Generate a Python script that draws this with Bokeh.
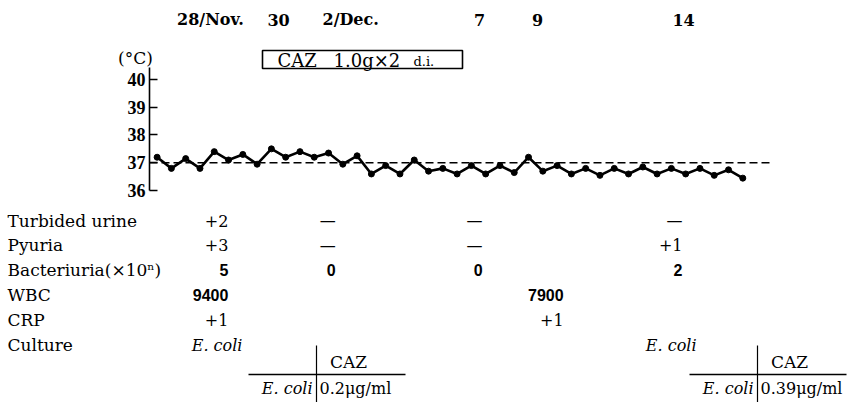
from bokeh.plotting import figure
from bokeh.models import Range1d, FixedTicker, ColumnDataSource
from bokeh.core.properties import value
from bokeh.embed import file_html
from bokeh.resources import INLINE

# ---------------- data ----------------
# body temperature (deg C), two readings a day; day 0 = 28 Nov
temp_first_day = -2.25
temps = [37.2, 36.8, 37.15, 36.8, 37.4, 37.1, 37.3, 36.95, 37.5, 37.2,
         37.4, 37.2, 37.35, 36.95, 37.25, 36.6, 36.9, 36.6, 37.1, 36.7,
         36.8, 36.6, 36.9, 36.6, 36.9, 36.65, 37.2, 36.7, 36.9, 36.6,
         36.8, 36.55, 36.8, 36.6, 36.85, 36.6, 36.8, 36.6, 36.8, 36.55,
         36.75, 36.45]
temp_days = [temp_first_day + 0.5 * i for i in range(len(temps))]
normal_temp = 37.0
temp_ticks = [36, 37, 38, 39, 40]

date_days = [0, 2, 4, 9, 11, 16]
date_labels = ["28/Nov.", "30", "2/Dec.", "7", "9", "14"]

treatment_drug = "CAZ"
treatment_dose = "1.0g×2"
treatment_route = "d.i."

row_labels = ["Turbided urine", "Pyuria", "Bacteriuria(×10ⁿ)", "WBC", "CRP", "Culture"]
turbid_urine = {0: "+2", 4: "—", 9: "—", 16: "—"}
pyuria = {0: "+3", 4: "—", 9: "—", 16: "+1"}
bacteriuria = {0: "5", 4: "0", 9: "0", 16: "2"}
wbc = {0: "9400", 11: "7900"}
crp = {0: "+1", 11: "+1"}
culture = {0: "E. coli", 16: "E. coli"}
table_rows = [turbid_urine, pyuria, bacteriuria, wbc, crp, culture]

mic_drug = "CAZ"
mic_organism = "E. coli"
mic_values = ["0.2μg/ml", "0.39μg/ml"]

# ---------------- layout constants ----------------
W, H = 854, 402
PX_DAY0, PX_PER_DAY = 220.9, 28.57       # horizontal day scale
PX_37, PX_PER_DEG = 162.3, 27.9          # vertical temperature scale
AXIS_PX = 149


def day_at(px):
    return (px - PX_DAY0) / PX_PER_DAY


def deg_at(py):
    return 37 + (PX_37 - py) / PX_PER_DEG


SERIF = value("DejaVu Serif")
SANS = value("Liberation Sans")
PX = dict(x_range_name="px", y_range_name="px")

p = figure(width=W, height=H, output_backend="svg", toolbar_location=None,
           x_range=Range1d(day_at(0), day_at(W)),
           y_range=Range1d(deg_at(H), deg_at(0)),
           x_axis_location=None, y_axis_location="left",
           min_border=0)
# pixel-style ranges for the annotations and the findings table
p.extra_x_ranges = {"px": Range1d(0, W)}
p.extra_y_ranges = {"px": Range1d(H, 0)}
p.outline_line_color = None
p.grid.visible = False
p.background_fill_color = "white"
p.border_fill_color = "white"

# temperature axis pinned next to the curve
ax = p.yaxis[0]
ax.fixed_location = day_at(AXIS_PX)
ax.ticker = FixedTicker(ticks=temp_ticks)
ax.bounds = (36, 40.4)
ax.major_tick_in = 8
ax.major_tick_out = 0
ax.minor_tick_line_color = None
ax.axis_line_width = 1.6
ax.major_tick_line_width = 1.6
ax.axis_line_color = "black"
ax.major_tick_line_color = "black"
ax.major_label_standoff = 4
ax.major_label_text_font = "Liberation Sans Narrow"
ax.major_label_text_font_style = "bold"
ax.major_label_text_font_size = "18px"
ax.major_label_text_color = "black"

# normal temperature reference
p.segment(x0=[day_at(AXIS_PX)], y0=[normal_temp], x1=[day_at(773)], y1=[normal_temp],
          line_color="black", line_width=1.5, line_dash="8 4")

src = ColumnDataSource(dict(day=temp_days, temp=temps))
p.line("day", "temp", source=src, line_color="black", line_width=2.6)
p.scatter("day", "temp", source=src, size=6, color="black")

# date labels along the top
date_shift = [-11, 0, 15, 1, 2, 5]
date_src = ColumnDataSource(dict(x=date_days, y=[deg_at(19)] * len(date_days),
                                 t=date_labels, dx=date_shift))
p.text("x", "y", text="t", x_offset="dx", source=date_src, text_align="center",
       text_baseline="middle", text_font=SERIF, text_font_style="bold",
       text_font_size="16px", text_color="black")

# treatment box
p.quad(left=[262], right=[462], top=[50], bottom=[68],
       fill_color=None, line_color="black", line_width=1.6, **PX)
p.text(x=[277, 333], y=[59.5, 59.5], text=[treatment_drug, treatment_dose],
       text_align="left", text_baseline="middle",
       text_font=SERIF, text_font_size="18px", text_color="black", **PX)
p.text(x=[413], y=[60.5], text=[treatment_route],
       text_align="left", text_baseline="middle",
       text_font=SERIF, text_font_size="13px", text_color="black", **PX)

# unit label above the axis
p.text(x=[135], y=[57], text=["(°C)"], text_align="center", text_baseline="middle",
       text_font=SERIF, text_font_size="17px", text_color="black", **PX)

# ---------------- findings table ----------------
row_y = [220 + 24.9 * i for i in range(len(row_labels))]
p.text(x=[7] * len(row_labels), y=row_y, text=row_labels, text_align="left",
       text_baseline="middle", text_font=SERIF, text_font_size="17px",
       text_color="black", **PX)

col_shift = {0: 7, 4: 0, 9: 4, 11: 28, 16: 4}
groups = {"serif": dict(x=[], y=[], t=[], dx=[]),
          "count": dict(x=[], y=[], t=[], dx=[]),
          "italic": dict(x=[], y=[], t=[], dx=[])}
for r, row in enumerate(table_rows):
    for d, t in row.items():
        if t.startswith("+") or t == "—":
            g = "serif"
        elif t.isdigit():
            g = "count"
        else:
            g = "italic"
        extra = 14 if g == "italic" else 0
        groups[g]["x"].append(d)
        groups[g]["y"].append(row_y[r])
        groups[g]["t"].append(t)
        groups[g]["dx"].append(col_shift[d] + extra)

p.text("x", "y", text="t", x_offset="dx", source=ColumnDataSource(groups["serif"]),
       y_range_name="px", text_align="right", text_baseline="middle",
       text_font=SERIF, text_font_size="16px", text_color="black")
p.text("x", "y", text="t", x_offset="dx", source=ColumnDataSource(groups["count"]),
       y_range_name="px", text_align="right", text_baseline="middle",
       text_font=SANS, text_font_style="bold", text_font_size="16px", text_color="black")
p.text("x", "y", text="t", x_offset="dx", source=ColumnDataSource(groups["italic"]),
       y_range_name="px", text_align="right", text_baseline="middle",
       text_font=SERIF, text_font_style="italic", text_font_size="16px",
       text_color="black")

# susceptibility (MIC) tables
mic_x = [316, 757]
for vx, mic in zip(mic_x, mic_values):
    p.segment(x0=[vx], y0=[345], x1=[vx], y1=[H], line_color="black", line_width=1.2, **PX)
    p.segment(x0=[vx - 68], y0=[374], x1=[vx + 89], y1=[374],
              line_color="black", line_width=1.5, **PX)
    p.text(x=[vx + 32], y=[361], text=[mic_drug], text_align="center",
           text_baseline="middle", text_font=SERIF, text_font_size="17px",
           text_color="black", **PX)
    p.text(x=[vx - 4], y=[388], text=[mic_organism], text_align="right",
           text_baseline="middle", text_font=SERIF, text_font_style="italic",
           text_font_size="16px", text_color="black", **PX)
    p.text(x=[vx + 3], y=[388], text=[mic], text_align="left",
           text_baseline="middle", text_font=SERIF, text_font_size="16px",
           text_color="black", **PX)

open("out.html", "w").write(file_html(p, INLINE))
